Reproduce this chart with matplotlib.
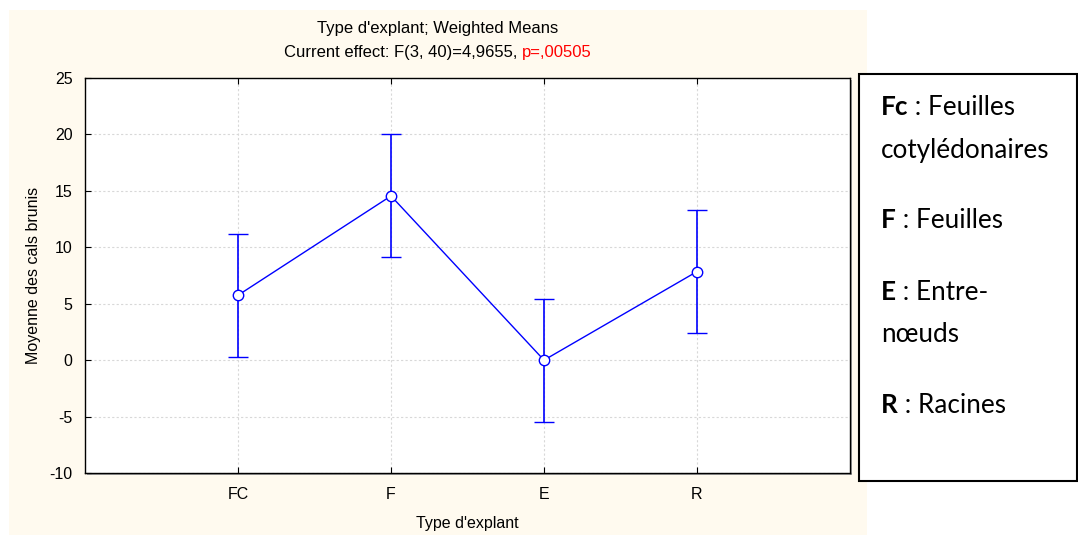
import matplotlib
matplotlib.use("Agg")
import matplotlib.pyplot as plt
from matplotlib.patches import Rectangle

categories = ["FC", "F", "E", "R"]
means = [5.75, 14.55, 0.0, 7.85]
errors = [5.45, 5.45, 5.45, 5.45]
yticks = [-10, -5, 0, 5, 10, 15, 20, 25]
title1 = "Type d'explant; Weighted Means"
title2_black = "Current effect: F(3, 40)=4,9655, "
title2_red = "p=,00505"
xlabel = "Type d'explant"
ylabel = "Moyenne des cals brunis"
legend_lines = [("Fc", " : Feuilles"), ("", "cotylédonaires"), ("F", " : Feuilles"),
                ("E", " : Entre-"), ("", "nœuds"), ("R", " : Racines")]
legend_baselines = [115, 158, 228, 300, 342, 413]

W, H = 1078, 535
FS = 11.5
FT = 12
plt.rcParams['font.family'] = ['Liberation Sans', 'DejaVu Sans']
plt.rcParams['axes.unicode_minus'] = False
fig = plt.figure(figsize=(W / 100, H / 100), dpi=100)
fig.patch.set_facecolor('white')
renderer = fig.canvas.get_renderer()

def fx(px):
    return px / W

def fy(py):
    return 1 - py / H

# cream panel
fig.patches.append(Rectangle((fx(9), 0), fx(867) - fx(9), fy(10), transform=fig.transFigure,
                             facecolor='#FFFAEF', edgecolor='none', zorder=0))

# axes shadow
fig.patches.append(Rectangle((fx(87), fy(475)), fx(852) - fx(87), fy(80) - fy(475),
                             transform=fig.transFigure, facecolor='#A0A0A0',
                             edgecolor='none', zorder=1))

ax = fig.add_axes([fx(85), fy(473), fx(850) - fx(85), fy(78) - fy(473)])
ax.set_zorder(2)
ax.set_facecolor('white')
x = list(range(1, len(categories) + 1))
ax.errorbar(x, means, yerr=errors, color='#0000FF', lw=1.0, elinewidth=1.2,
            capsize=7.5, capthick=1.2, marker='o', markersize=7.5,
            markerfacecolor='white', markeredgecolor='#0000FF', markeredgewidth=1.0,
            zorder=3)
ax.set_xlim(0, 5)
ax.set_ylim(-10, 25)
ax.set_xticks(x)
ax.set_xticklabels(categories)
ax.set_yticks(yticks)
ax.tick_params(direction='in', length=4, width=0.8, labelsize=FS, top=True, colors='black')
ax.tick_params(axis='x', pad=10)
ax.tick_params(axis='y', pad=9)
ax.grid(True, color='#D8D8D8', linestyle=(0, (2, 2)), lw=0.8)
for s in ax.spines.values():
    s.set_color('black')
    s.set_linewidth(1.0)
ax.set_xlabel(xlabel, fontsize=FS, labelpad=10)
ax.set_ylabel(ylabel, fontsize=FS, labelpad=6)

# titles
fig.text(fx(438), fy(28), title1, ha='center', va='center', fontsize=FT, zorder=3)
tb = fig.text(0, fy(52), title2_black, ha='left', va='center', fontsize=FT, zorder=3)
tr = fig.text(0, fy(52), title2_red, ha='left', va='center', fontsize=FT, color='#FF0000', zorder=3)
wb = tb.get_window_extent(renderer).width
wr = tr.get_window_extent(renderer).width
x0 = 438 - (wb + wr) / 2
tb.set_x(fx(x0))
tr.set_x(fx(x0 + wb))

# legend box
fig.patches.append(Rectangle((fx(859), fy(481)), fx(1077) - fx(859), fy(74) - fy(481),
                             transform=fig.transFigure, facecolor='white',
                             edgecolor='black', lw=1.5, zorder=2))
# pick font size so the widest line matches the reference width (~170 px)
probe = fig.text(0, 0, "cotylédonaires", fontsize=17, family='Lato')
pw = probe.get_window_extent(renderer).width
probe.remove()
fs = 17 * 168 / pw
for (b, r), yy in zip(legend_lines, legend_baselines):
    xx = 881
    if b:
        t = fig.text(fx(xx), fy(yy), b, ha='left', va='baseline', fontsize=fs,
                     fontweight='bold', family='Lato', zorder=3)
        xx += t.get_window_extent(renderer).width
    fig.text(fx(xx), fy(yy), r, ha='left', va='baseline', fontsize=fs,
             family='Lato', zorder=3)

fig.savefig('out.png', dpi=100, facecolor='white')
